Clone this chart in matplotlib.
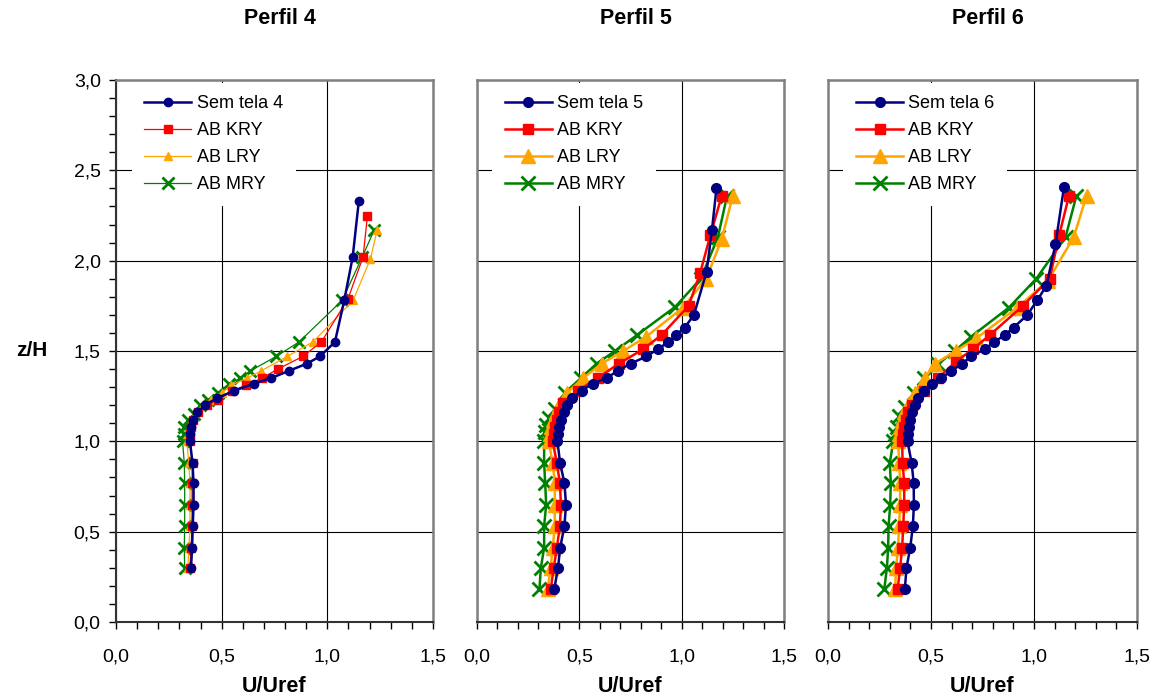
import matplotlib.pyplot as plt
from matplotlib.ticker import MultipleLocator

plt.rcParams['font.family'] = ['Liberation Sans', 'DejaVu Sans']

# ---- Perfil 4 ----
z4_sem = [0.30, 0.41, 0.53, 0.65, 0.77, 0.88, 1.00, 1.04, 1.08, 1.12, 1.16, 1.20, 1.24, 1.28,
          1.32, 1.35, 1.39, 1.43, 1.47, 1.55, 1.78, 2.02, 2.33]
u4_sem = [0.355, 0.36, 0.363, 0.367, 0.367, 0.362, 0.35, 0.35, 0.355, 0.365, 0.385, 0.42, 0.48, 0.56,
          0.652, 0.734, 0.818, 0.903, 0.965, 1.036, 1.08, 1.12, 1.149]
z4_kry = [0.30, 0.41, 0.53, 0.65, 0.77, 0.88, 1.00, 1.04, 1.08, 1.12, 1.16, 1.20, 1.23, 1.28,
          1.31, 1.35, 1.40, 1.47, 1.55, 1.79, 2.02, 2.25]
u4_kry = [0.35, 0.355, 0.36, 0.36, 0.36, 0.362, 0.35, 0.35, 0.355, 0.362, 0.389, 0.43, 0.481, 0.547,
          0.616, 0.690, 0.766, 0.884, 0.972, 1.098, 1.169, 1.190]
z4_lry = [0.30, 0.41, 0.53, 0.65, 0.77, 0.88, 1.00, 1.04, 1.08, 1.12, 1.16, 1.20, 1.23, 1.27,
          1.31, 1.35, 1.39, 1.47, 1.55, 1.78, 2.01, 2.17]
u4_lry = [0.34, 0.345, 0.35, 0.35, 0.35, 0.345, 0.335, 0.34, 0.35, 0.36, 0.38, 0.41, 0.45, 0.50,
          0.544, 0.62, 0.687, 0.810, 0.932, 1.122, 1.204, 1.236]
z4_mry = [0.30, 0.41, 0.53, 0.65, 0.77, 0.88, 1.00, 1.04, 1.08, 1.12, 1.15, 1.20, 1.23, 1.27,
          1.32, 1.35, 1.39, 1.47, 1.55, 1.78, 2.02, 2.17]
u4_mry = [0.325, 0.323, 0.325, 0.325, 0.325, 0.323, 0.315, 0.32, 0.323, 0.339, 0.367, 0.399, 0.434, 0.481,
          0.536, 0.589, 0.636, 0.758, 0.866, 1.070, 1.165, 1.222]

# ---- Perfil 5 ----
z5_sem = [0.18, 0.30, 0.41, 0.53, 0.65, 0.77, 0.88, 1.00, 1.04, 1.08, 1.12, 1.16, 1.20, 1.24,
          1.28, 1.32, 1.35, 1.39, 1.43, 1.47, 1.51, 1.55, 1.59, 1.63, 1.70, 1.94, 2.17, 2.40]
u5_sem = [0.377, 0.396, 0.406, 0.427, 0.435, 0.427, 0.406, 0.393, 0.395, 0.40, 0.41, 0.425, 0.44, 0.463,
          0.511, 0.565, 0.633, 0.687, 0.750, 0.828, 0.883, 0.935, 0.974, 1.015, 1.060, 1.122, 1.148, 1.170]
z5_kry = [0.18, 0.30, 0.41, 0.53, 0.65, 0.77, 0.88, 1.00, 1.04, 1.08, 1.12, 1.16, 1.21, 1.28,
          1.35, 1.43, 1.51, 1.59, 1.75, 1.93, 2.14, 2.36]
u5_kry = [0.36, 0.375, 0.39, 0.405, 0.41, 0.405, 0.39, 0.37, 0.375, 0.38, 0.39, 0.40, 0.42, 0.492,
          0.589, 0.693, 0.812, 0.903, 1.034, 1.09, 1.14, 1.196]
z5_lry = [0.18, 0.30, 0.41, 0.53, 0.65, 0.77, 0.88, 1.00, 1.04, 1.08, 1.12, 1.16, 1.20, 1.27,
          1.35, 1.43, 1.50, 1.58, 1.74, 1.90, 2.12, 2.36]
u5_lry = [0.345, 0.36, 0.37, 0.38, 0.38, 0.38, 0.37, 0.35, 0.355, 0.36, 0.37, 0.385, 0.40, 0.44,
          0.52, 0.609, 0.714, 0.828, 1.006, 1.120, 1.196, 1.25]
z5_mry = [0.18, 0.30, 0.41, 0.53, 0.65, 0.77, 0.88, 1.00, 1.05, 1.09, 1.13, 1.18, 1.27, 1.35,
          1.43, 1.50, 1.59, 1.745, 1.90, 2.13, 2.36]
u5_mry = [0.305, 0.312, 0.328, 0.328, 0.338, 0.333, 0.328, 0.328, 0.333, 0.338, 0.352, 0.381, 0.430, 0.508,
          0.584, 0.674, 0.784, 0.969, 1.093, 1.177, 1.222]

# ---- Perfil 6 ----
z6_sem = [0.18, 0.30, 0.41, 0.53, 0.65, 0.77, 0.88, 1.00, 1.04, 1.08, 1.12, 1.16, 1.20, 1.24,
          1.28, 1.32, 1.35, 1.39, 1.43, 1.47, 1.51, 1.55, 1.59, 1.63, 1.70, 1.78, 1.86, 2.09, 2.41]
u6_sem = [0.373, 0.381, 0.399, 0.412, 0.417, 0.416, 0.406, 0.386, 0.39, 0.395, 0.40, 0.41, 0.42, 0.435,
          0.465, 0.505, 0.55, 0.599, 0.651, 0.695, 0.760, 0.808, 0.860, 0.901, 0.968, 1.015, 1.060, 1.104, 1.146]
z6_kry = [0.18, 0.30, 0.41, 0.53, 0.65, 0.77, 0.88, 1.00, 1.04, 1.08, 1.12, 1.16, 1.20, 1.28,
          1.35, 1.44, 1.51, 1.59, 1.75, 1.90, 2.14, 2.36]
u6_kry = [0.338, 0.35, 0.36, 0.365, 0.37, 0.37, 0.362, 0.36, 0.365, 0.37, 0.38, 0.39, 0.41, 0.464,
          0.536, 0.619, 0.703, 0.787, 0.946, 1.076, 1.122, 1.170]
z6_lry = [0.18, 0.30, 0.41, 0.53, 0.65, 0.77, 0.88, 1.00, 1.04, 1.08, 1.12, 1.16, 1.20, 1.27,
          1.35, 1.43, 1.50, 1.57, 1.74, 1.89, 2.13, 2.36]
u6_lry = [0.326, 0.33, 0.34, 0.345, 0.35, 0.35, 0.346, 0.34, 0.345, 0.35, 0.36, 0.37, 0.39, 0.42,
          0.47, 0.52, 0.62, 0.719, 0.919, 1.068, 1.193, 1.255]
z6_mry = [0.18, 0.30, 0.41, 0.53, 0.65, 0.77, 0.88, 1.00, 1.04, 1.08, 1.14, 1.19, 1.27, 1.35,
          1.43, 1.50, 1.58, 1.74, 1.90, 2.13, 2.36]
u6_mry = [0.273, 0.286, 0.292, 0.294, 0.302, 0.305, 0.300, 0.317, 0.326, 0.334, 0.346, 0.375, 0.419, 0.468,
          0.532, 0.617, 0.695, 0.878, 1.011, 1.153, 1.206]

series_names = ['AB KRY', 'AB LRY', 'AB MRY']
colors = ['#000080', '#ff0000', '#ffa500', '#008000']
markers = ['o', 's', '^', 'x']

panels = [
    ('Perfil 4', 'Sem tela 4', [(u4_sem, z4_sem), (u4_kry, z4_kry), (u4_lry, z4_lry), (u4_mry, z4_mry)]),
    ('Perfil 5', 'Sem tela 5', [(u5_sem, z5_sem), (u5_kry, z5_kry), (u5_lry, z5_lry), (u5_mry, z5_mry)]),
    ('Perfil 6', 'Sem tela 6', [(u6_sem, z6_sem), (u6_kry, z6_kry), (u6_lry, z6_lry), (u6_mry, z6_mry)]),
]

fig = plt.figure(figsize=(11.63, 6.99), dpi=100)
# axes boxes in pixels (left, right)
boxes = [(116, 433), (477, 784), (828, 1137)]
W, H = 1163, 699
top_px, bot_px = 80, 622

for k, ((title, sem_label, data), (l, r)) in enumerate(zip(panels, boxes)):
    ax = fig.add_axes([l / W, (H - bot_px) / H, (r - l) / W, (bot_px - top_px) / H])
    labels = [sem_label] + series_names
    for i, (u, z) in enumerate(data):
        if k == 0:
            lw = 1.8 if i == 0 else 0.9
            ms = {0: 6, 1: 6, 2: 6, 3: 8}[i]
        else:
            lw = 1.8
            ms = {0: 7, 1: 7, 2: 10, 3: 10}[i]
        ax.plot(u, z, color=colors[i], marker=markers[i], lw=lw, ms=ms,
                mew=2 if markers[i] == 'x' else 1, label=labels[i], zorder=3 + (3 - i))

    ax.set_xlim(0, 1.5)
    ax.set_ylim(0, 3.0)
    ax.xaxis.set_major_locator(MultipleLocator(0.5))
    ax.xaxis.set_minor_locator(MultipleLocator(0.1))
    ax.yaxis.set_major_locator(MultipleLocator(0.5))
    ax.yaxis.set_minor_locator(MultipleLocator(0.1))
    ax.xaxis.set_major_formatter(lambda v, p: f'{v:.1f}'.replace('.', ','))
    ax.yaxis.set_major_formatter(lambda v, p: f'{v:.1f}'.replace('.', ','))
    ax.grid(True, which='major', color='black', lw=0.8)
    ax.tick_params(axis='both', which='both', direction='out', labelsize=14, length=5, width=1)
    ax.tick_params(axis='x', pad=14)
    ax.tick_params(axis='y', pad=6)
    for s in ['top', 'right', 'left']:
        ax.spines[s].set_color('#808080')
        ax.spines[s].set_linewidth(1.8)
    ax.spines['bottom'].set_color('#333333')
    ax.spines['bottom'].set_linewidth(1.5)
    if k == 0:
        ax.spines['left'].set_color('#333333')
        ax.spines['left'].set_linewidth(1.5)
        ax.set_ylabel('z/H', fontsize=15, fontweight='bold', rotation=0, labelpad=30, va='center')
    else:
        ax.tick_params(axis='y', which='both', left=False, labelleft=False)
    ax.set_xlabel('U/Uref', fontsize=15.5, fontweight='bold', labelpad=8)

    leg = ax.legend(loc='upper left', bbox_to_anchor=(0.05, 0.995), borderaxespad=0,
                    fontsize=13, frameon=True, fancybox=False, edgecolor='none',
                    facecolor='white', framealpha=1, handlelength=2.6,
                    handletextpad=0.3, labelspacing=0.55, borderpad=0.7)
    leg.set_zorder(20)

    fig.text(((l + r) / 2 + 5) / W, 1 - 18 / H, title, ha='center', va='center',
             fontsize=15.5, fontweight='bold')

fig.savefig('out.png', dpi=100)
